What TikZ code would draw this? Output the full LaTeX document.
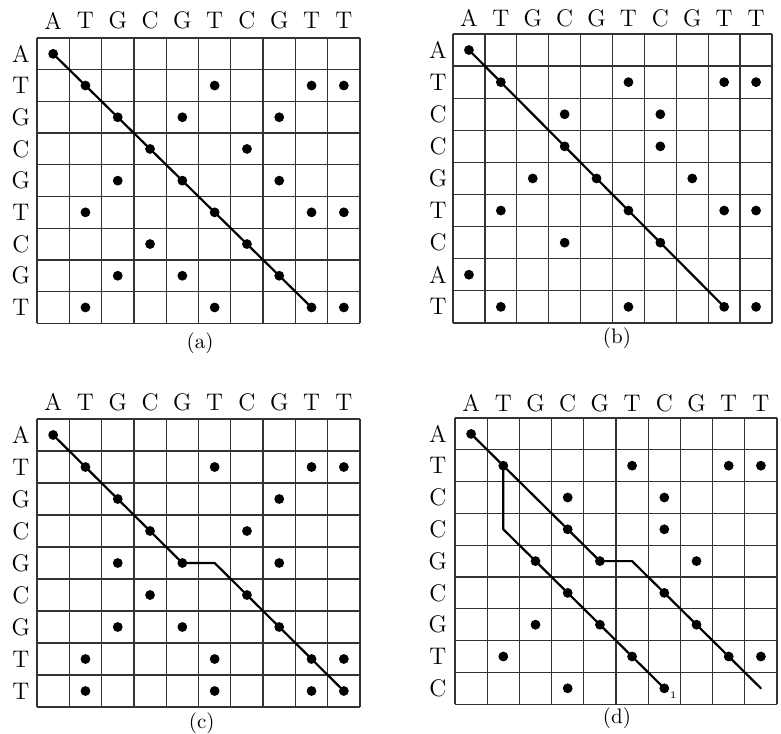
\documentclass[tikz,border=0pt]{standalone}
\usepackage{tikz}
\usetikzlibrary{calc}

\begin{document}
\begin{tikzpicture}[x=0.5pt, y=-0.5pt,
  gridline/.style={line width=0.65pt, black!80},
  spot/.style={circle, fill=black, inner sep=0pt, minimum size=4.9pt},
  seq/.style={font=\fontsize{12}{14}\selectfont, inner sep=0pt},
  panelname/.style={font=\fontsize{10.5}{12}\selectfont, inner sep=0pt},
  track/.style={line width=1.1pt, line join=round, line cap=round}]

  \useasboundingbox (0,0) rectangle (781,733);

  % Panel (a): ATGCGTCGTT against ATGCGTCGT
  \begin{scope}[shift={(37,38)}, x=16.15pt, y=-15.85pt]
    \foreach \i in {0,...,10} \draw[gridline] (\i,0) -- (\i,9);
    \foreach \j in {0,...,9} \draw[gridline] (0,\j) -- (10,\j);
    \foreach \t [count=\i] in {A,T,G,C,G,T,C,G,T,T}
      \node[seq] (a-col-\i) at (\i-0.5,-0.55) {\t};
    \foreach \t [count=\j] in {A,T,G,C,G,T,C,G,T}
      \node[seq] (a-row-\j) at (-0.5,\j-0.5) {\t};
    \foreach \j/\cols in {1/{1}, 2/{2,6,9,10}, 3/{3,5,8}, 4/{4,7}, 5/{3,5,8},
                          6/{2,6,9,10}, 7/{4,7}, 8/{3,5,8}, 9/{2,6,9,10}}
      \foreach \i in \cols
        \node[spot] (a-\i-\j) at (\i-0.5,\j-0.5) {};
    \node[panelname] (a-cap) at (5.05,9.62) {(a)};

    % Draw the alignment
    \draw[track] (a-1-1.center) -- (a-9-9.center);
  \end{scope}

  % Panel (b): ATGCGTCGTT against ATCCGTCAT
  \begin{scope}[shift={(453,34)}, x=15.95pt, y=-16.05pt]
    \foreach \i in {0,...,10} \draw[gridline] (\i,0) -- (\i,9);
    \foreach \j in {0,...,9} \draw[gridline] (0,\j) -- (10,\j);
    \foreach \t [count=\i] in {A,T,G,C,G,T,C,G,T,T}
      \node[seq] (b-col-\i) at (\i-0.5,-0.5) {\t};
    \foreach \t [count=\j] in {A,T,C,C,G,T,C,A,T}
      \node[seq] (b-row-\j) at (-0.47,\j-0.5) {\t};
    \foreach \j/\cols in {1/{1}, 2/{2,6,9,10}, 3/{4,7}, 4/{4,7}, 5/{3,5,8},
                          6/{2,6,9,10}, 7/{4,7}, 8/{1}, 9/{2,6,9,10}}
      \foreach \i in \cols
        \node[spot] (b-\i-\j) at (\i-0.5,\j-0.5) {};
    \node[panelname] (b-cap) at (5.14,9.47) {(b)};

    % Draw the alignment
    \draw[track] (b-1-1.center) -- (b-9-9.center);
  \end{scope}

  % Panel (c): ATGCGTCGTT against ATGCGCGTT
  \begin{scope}[shift={(37,419)}, x=16.15pt, y=-16pt]
    \foreach \i in {0,...,10} \draw[gridline] (\i,0) -- (\i,9);
    \foreach \j in {0,...,9} \draw[gridline] (0,\j) -- (10,\j);
    \foreach \t [count=\i] in {A,T,G,C,G,T,C,G,T,T}
      \node[seq] (c-col-\i) at (\i-0.5,-0.53) {\t};
    \foreach \t [count=\j] in {A,T,G,C,G,C,G,T,T}
      \node[seq] (c-row-\j) at (-0.5,\j-0.5) {\t};
    \foreach \j/\cols in {1/{1}, 2/{2,6,9,10}, 3/{3,8}, 4/{4,7}, 5/{3,5,8},
                          6/{4,7}, 7/{3,5,8}, 8/{2,6,9,10}, 9/{2,6,9,10}}
      \foreach \i in \cols
        \node[spot] (c-\i-\j) at (\i-0.5,\j-0.5) {};
    \coordinate (c-gap) at (5.5,4.5);
    \node[panelname] (c-cap) at (5.1,9.5) {(c)};

    % Draw the alignment with one gap
    \draw[track] (c-1-1.center) -- (c-5-5.center) -- (c-gap)
      -- (c-7-6.center) -- (c-10-9.center);
  \end{scope}

  % Panel (d): ATGCGTCGTT against ATCCGCGTC
  \begin{scope}[shift={(455,418)}, x=16.1pt, y=-15.9pt]
    \foreach \i in {0,...,10} \draw[gridline] (\i,0) -- (\i,9);
    \foreach \j in {0,...,9} \draw[gridline] (0,\j) -- (10,\j);
    \foreach \t [count=\i] in {A,T,G,C,G,T,C,G,T,T}
      \node[seq] (d-col-\i) at (\i-0.5,-0.47) {\t};
    \foreach \t [count=\j] in {A,T,C,C,G,C,G,T,C}
      \node[seq] (d-row-\j) at (-0.53,\j-0.5) {\t};
    \foreach \j/\cols in {1/{1}, 2/{2,6,9,10}, 3/{4,7}, 4/{4,7}, 5/{3,5,8},
                          6/{4,7}, 7/{3,5,8}, 8/{2,6,9,10}, 9/{4,7}}
      \foreach \i in \cols
        \node[spot] (d-\i-\j) at (\i-0.5,\j-0.5) {};
    \coordinate (d-gap) at (5.5,4.5);
    \coordinate (d-end) at (9.5,8.5);
    \coordinate (d-bend) at (1.5,3.5);
    \node[font=\fontsize{5}{6}\selectfont, inner sep=0pt] (d-mark) at (6.78,8.72) {1};
    \node[panelname] (d-cap) at (5.03,9.43) {(d)};

    % Draw the two alignments
    \draw[track] (d-1-1.center) -- (d-5-5.center) -- (d-gap)
      -- (d-7-6.center) -- (d-end);
    \draw[track] (d-2-2.center) -- (d-bend) -- (d-7-9.center);
  \end{scope}
\end{tikzpicture}
\end{document}
